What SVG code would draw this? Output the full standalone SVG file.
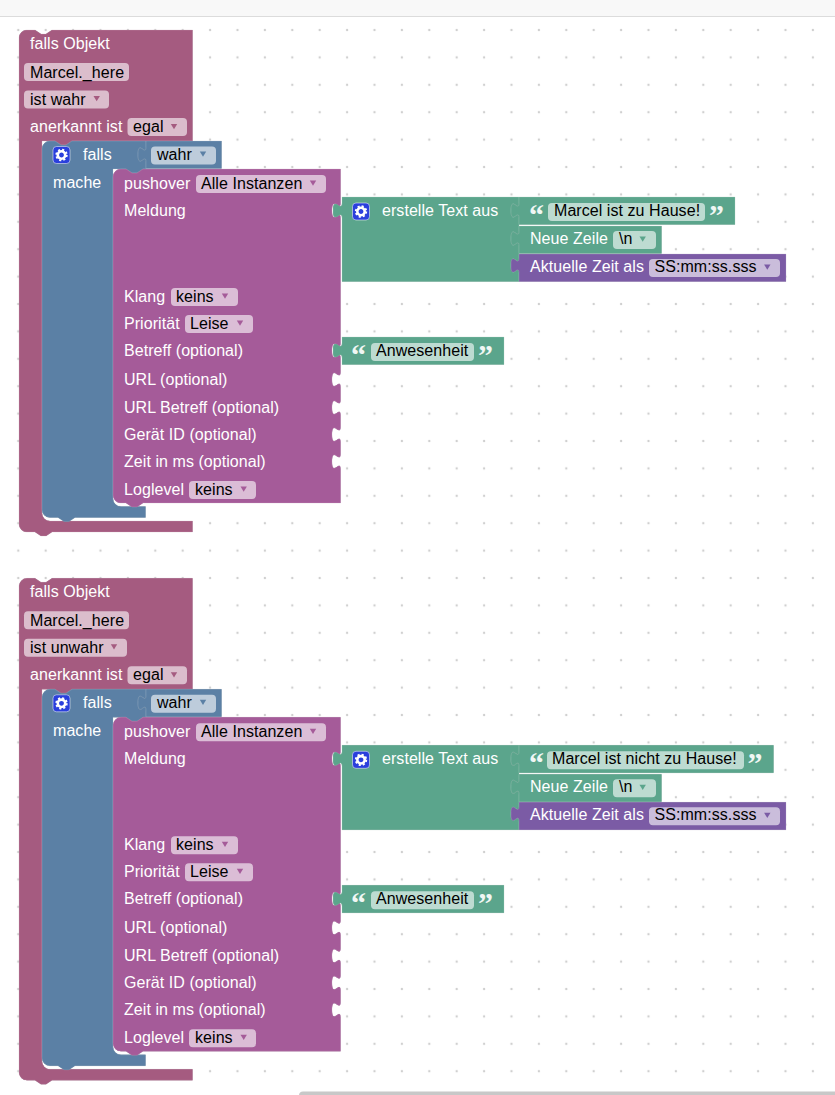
<svg xmlns="http://www.w3.org/2000/svg" width="835" height="1095" viewBox="0 0 835 1095">
<style>
text{font-family:"Liberation Sans",Arial,sans-serif;font-size:16px;fill:#fff;letter-spacing:.06px}
.f{fill:#000}
.q{font-family:"Liberation Serif",serif;font-weight:bold;font-size:30px;fill:#f0f7f4}
.b{stroke:#fff;stroke-opacity:.2;stroke-width:.7}
.m{fill:#a55b80;filter:drop-shadow(.6px .6px 0 #84496a)}
.l{fill:#5b80a5;filter:drop-shadow(.6px .6px 0 #496684)}
.p{fill:#a55b99;filter:drop-shadow(.6px .6px 0 #84497a)}
.g{fill:#5ba58c;filter:drop-shadow(.6px .6px 0 #498470)}
.v{fill:#7b5ba5;filter:drop-shadow(.6px .6px 0 #624984)}
.fd{fill:#fff;fill-opacity:.6}
.am{fill:#a55b80}.al{fill:#5b80a5}.ap{fill:#a55b99}.ag{fill:#5ba58c}.av{fill:#7b5ba5}
</style>
<defs>
<pattern id="dots" patternUnits="userSpaceOnUse" x="4.6" y="16.3" width="27.4" height="27.4"><circle cx="13.7" cy="13.7" r="1.2" fill="#d0d0d0"/></pattern>
<path id="arr" d="M-3.2-2.5h6.4L0 2.7z"/>
<g id="gear">
<rect x="-8.5" y="-8.5" width="17" height="17" rx="3.5" fill="#2a3fdc" stroke="#fff" stroke-opacity=".5"/>
<circle r="3.7" fill="none" stroke="#fff" stroke-width="2.6"/>
<circle r="5.3" fill="none" stroke="#fff" stroke-width="1.8" stroke-dasharray="2.1 2.06"/>
</g>
</defs>
<rect width="835" height="1095" fill="#fff"/>
<rect width="835" height="16" fill="#f8f8f8"/>
<rect y="16" width="835" height="1" fill="#dcdcdc"/>
<rect y="17" width="835" height="1078" fill="url(#dots)"/>
<rect x="299" y="1091.5" width="560" height="8" rx="4" fill="#c8c8c8"/>

<g id="stack1">
<g id="trigger1">
<path class="b m" d="M19 38A8 8 0 0 1 27 30H35l6 4h5l6-4H192.500V141H72l-6 4h-5l-6-4H42V513a8 8 0 0 0 8 8H192.500V532H52l-6 4h-5l-6-4H27A8 8 0 0 1 19 524Z"/>
<text x="30" y="49">falls Objekt</text>
<rect class="fd" x="24" y="63" width="105" height="18" rx="4"/><text class="f" x="30" y="78">Marcel._here</text>
<rect class="fd" x="24" y="90.500" width="85" height="18" rx="4"/><text class="f" x="30" y="104.500">ist wahr</text><use href="#arr" class="am" x="96.700" y="98.500"/>
<text x="30" y="132">anerkannt ist</text>
<rect class="fd" x="127.500" y="118" width="59.500" height="18" rx="4"/><text class="f" x="133" y="132">egal</text><use href="#arr" class="am" x="174" y="126.500"/>
</g>
<g id="if1">
<path class="b l" d="M42 149a8 8 0 0 1 8-8h5l6 4h5l6-4H146V147c0,10-8,-8-8,7.500s8,-2.500 8,7.500V169H143l-6 4h-5l-6-4H113V498.500a8 8 0 0 0 8 8H145.500V517.500H75l-6 4h-5l-6-4H50a8 8 0 0 1-8-8Z"/>
<use href="#gear" x="61.500" y="155"/>
<text x="83" y="160">falls</text>
<text x="53" y="188">mache</text>
</g>
<g id="cond1">
<path class="b l" d="M146 141H221.500V168.500H146V162c0,-10-8,8-8,-7.500s8,2.500 8,-7.500Z"/>
<rect class="fd" x="151" y="146.500" width="65" height="18" rx="4"/><text class="f" x="157" y="160">wahr</text><use href="#arr" class="al" x="203" y="154"/>
</g>
<g id="pushover1">
<path class="b p" d="M113 177a8 8 0 0 1 8-8h5l6 4h5l6-4H340.500V203c0,10-8.500,-8-8.500,7.500s8.500,-2.500 8.500,7.500V343c0,10-8.500,-8-8.500,7.500s8.500,-2.500 8.500,7.500V372c0,10-8.500,-8-8.500,7.500s8.500,-2.500 8.500,7.500V400c0,10-8.500,-8-8.500,7.500s8.500,-2.500 8.500,7.500V427c0,10-8.500,-8-8.500,7.500s8.500,-2.500 8.500,7.500V454c0,10-8.500,-8-8.500,7.500s8.500,-2.500 8.500,7.500V503H143l-6 4h-5l-6-4H121a8 8 0 0 1-8-8Z"/>
<text x="124" y="189">pushover</text>
<rect class="fd" x="196" y="175" width="130" height="18" rx="4"/><text class="f" x="201" y="189">Alle Instanzen</text><use href="#arr" class="ap" x="313" y="183"/>
<text x="124" y="216">Meldung</text>
<text x="124" y="302">Klang</text>
<rect class="fd" x="171" y="288" width="67" height="18" rx="4"/><text class="f" x="176" y="302">keins</text><use href="#arr" class="ap" x="225" y="296"/>
<text x="124" y="329">Priorität</text>
<rect class="fd" x="185" y="315" width="68" height="18" rx="4"/><text class="f" x="190" y="329">Leise</text><use href="#arr" class="ap" x="240" y="323"/>
<text x="124" y="356">Betreff (optional)</text>
<text x="124" y="385">URL (optional)</text>
<text x="124" y="412.500">URL Betreff (optional)</text>
<text x="124" y="440">Gerät ID (optional)</text>
<text x="124" y="467">Zeit in ms (optional)</text>
<text x="124" y="495">Loglevel</text>
<rect class="fd" x="189" y="481" width="67" height="18" rx="4"/><text class="f" x="195" y="495">keins</text><use href="#arr" class="ap" x="243.700" y="489"/>
</g>
<g id="join1">
<path class="b g" d="M342 197H519V203c0,10-8,-8-8,7.500s8,-2.500 8,7.500V231c0,10-8,-8-8,7.500s8,-2.500 8,7.500V258c0,10-8,-8-8,7.500s8,-2.500 8,7.500V281.500H342V218c0,-10-9,8-9,-7.500s9,2.500 9,-7.500Z"/>
<use href="#gear" x="361" y="211.500"/>
<text x="382" y="216">erstelle Text aus</text>
</g>
<g id="text1">
<path class="b g" d="M519 197H735V224.500H519V218c0,-10-8,8-8,-7.500s8,2.500 8,-7.500Z"/>
<text class="q" x="529" y="224.500">“</text>
<rect class="fd" x="548" y="203" width="157" height="18" rx="4"/><text class="f" x="554" y="216">Marcel ist zu Hause!</text>
<text class="q" x="709" y="224.500">”</text>
</g>
<g id="newline1">
<path class="b g" d="M519 226H661.500V253.500H519V246c0,-10-8,8-8,-7.500s8,2.500 8,-7.500Z"/>
<text x="530" y="244">Neue Zeile</text>
<rect class="fd" x="613" y="231" width="43" height="18" rx="4"/><text class="f" x="619" y="244">\n</text><use href="#arr" class="ag" x="642.700" y="239"/>
</g>
<g id="time1">
<path class="b v" d="M519 254H786V281.500H519V273c0,-10-8,8-8,-7.500s8,2.500 8,-7.500Z"/>
<text x="530" y="272">Aktuelle Zeit als</text>
<rect class="fd" x="649" y="259" width="131" height="18" rx="4"/><text class="f" x="654.500" y="272">SS:mm:ss.sss</text><use href="#arr" class="av" x="767.300" y="267"/>
</g>
<g id="subject1">
<path class="b g" d="M342 337H504V364.500H342V358c0,-10-9,8-9,-7.500s9,2.500 9,-7.500Z"/>
<text class="q" x="351" y="364.500">“</text>
<rect class="fd" x="371" y="343" width="103" height="18" rx="4"/><text class="f" x="376" y="356">Anwesenheit</text>
<text class="q" x="478" y="364.500">”</text>
</g>
</g>

<g id="stack2" transform="translate(0,548.300)">
<g id="trigger2">
<path class="b m" d="M19 38A8 8 0 0 1 27 30H35l6 4h5l6-4H192.500V141H72l-6 4h-5l-6-4H42V513a8 8 0 0 0 8 8H192.500V532H52l-6 4h-5l-6-4H27A8 8 0 0 1 19 524Z"/>
<text x="30" y="49">falls Objekt</text>
<rect class="fd" x="24" y="63" width="105" height="18" rx="4"/><text class="f" x="30" y="78">Marcel._here</text>
<rect class="fd" x="24" y="90.500" width="103" height="18" rx="4"/><text class="f" x="30" y="104.500">ist unwahr</text><use href="#arr" class="am" x="114" y="98.500"/>
<text x="30" y="132">anerkannt ist</text>
<rect class="fd" x="127.500" y="118" width="59.500" height="18" rx="4"/><text class="f" x="133" y="132">egal</text><use href="#arr" class="am" x="174" y="126.500"/>
</g>
<g id="if2">
<path class="b l" d="M42 149a8 8 0 0 1 8-8h5l6 4h5l6-4H146V147c0,10-8,-8-8,7.500s8,-2.500 8,7.500V169H143l-6 4h-5l-6-4H113V498.500a8 8 0 0 0 8 8H145.500V517.500H75l-6 4h-5l-6-4H50a8 8 0 0 1-8-8Z"/>
<use href="#gear" x="61.500" y="155"/>
<text x="83" y="160">falls</text>
<text x="53" y="188">mache</text>
</g>
<g id="cond2">
<path class="b l" d="M146 141H221.500V168.500H146V162c0,-10-8,8-8,-7.500s8,2.500 8,-7.500Z"/>
<rect class="fd" x="151" y="146.500" width="65" height="18" rx="4"/><text class="f" x="157" y="160">wahr</text><use href="#arr" class="al" x="203" y="154"/>
</g>
<g id="pushover2">
<path class="b p" d="M113 177a8 8 0 0 1 8-8h5l6 4h5l6-4H340.500V203c0,10-8.500,-8-8.500,7.500s8.500,-2.500 8.500,7.500V343c0,10-8.500,-8-8.500,7.500s8.500,-2.500 8.500,7.500V372c0,10-8.500,-8-8.500,7.500s8.500,-2.500 8.500,7.500V400c0,10-8.500,-8-8.500,7.500s8.500,-2.500 8.500,7.500V427c0,10-8.500,-8-8.500,7.500s8.500,-2.500 8.500,7.500V454c0,10-8.500,-8-8.500,7.500s8.500,-2.500 8.500,7.500V503H143l-6 4h-5l-6-4H121a8 8 0 0 1-8-8Z"/>
<text x="124" y="189">pushover</text>
<rect class="fd" x="196" y="175" width="130" height="18" rx="4"/><text class="f" x="201" y="189">Alle Instanzen</text><use href="#arr" class="ap" x="313" y="183"/>
<text x="124" y="216">Meldung</text>
<text x="124" y="302">Klang</text>
<rect class="fd" x="171" y="288" width="67" height="18" rx="4"/><text class="f" x="176" y="302">keins</text><use href="#arr" class="ap" x="225" y="296"/>
<text x="124" y="329">Priorität</text>
<rect class="fd" x="185" y="315" width="68" height="18" rx="4"/><text class="f" x="190" y="329">Leise</text><use href="#arr" class="ap" x="240" y="323"/>
<text x="124" y="356">Betreff (optional)</text>
<text x="124" y="385">URL (optional)</text>
<text x="124" y="412.500">URL Betreff (optional)</text>
<text x="124" y="440">Gerät ID (optional)</text>
<text x="124" y="467">Zeit in ms (optional)</text>
<text x="124" y="495">Loglevel</text>
<rect class="fd" x="189" y="481" width="67" height="18" rx="4"/><text class="f" x="195" y="495">keins</text><use href="#arr" class="ap" x="243.700" y="489"/>
</g>
<g id="join2">
<path class="b g" d="M342 197H519V203c0,10-8,-8-8,7.500s8,-2.500 8,7.500V231c0,10-8,-8-8,7.500s8,-2.500 8,7.500V258c0,10-8,-8-8,7.500s8,-2.500 8,7.500V281.500H342V218c0,-10-9,8-9,-7.500s9,2.500 9,-7.500Z"/>
<use href="#gear" x="361" y="211.500"/>
<text x="382" y="216">erstelle Text aus</text>
</g>
<g id="text2">
<path class="b g" d="M519 197H773.500V224.500H519V218c0,-10-8,8-8,-7.500s8,2.500 8,-7.500Z"/>
<text class="q" x="529" y="224.500">“</text>
<rect class="fd" x="547" y="203" width="197" height="18" rx="4"/><text class="f" x="552" y="216">Marcel ist nicht zu Hause!</text>
<text class="q" x="747.500" y="224.500">”</text>
</g>
<g id="newline2">
<path class="b g" d="M519 226H661.500V253.500H519V246c0,-10-8,8-8,-7.500s8,2.500 8,-7.500Z"/>
<text x="530" y="244">Neue Zeile</text>
<rect class="fd" x="613" y="231" width="43" height="18" rx="4"/><text class="f" x="619" y="244">\n</text><use href="#arr" class="ag" x="642.700" y="239"/>
</g>
<g id="time2">
<path class="b v" d="M519 254H786V281.500H519V273c0,-10-8,8-8,-7.500s8,2.500 8,-7.500Z"/>
<text x="530" y="272">Aktuelle Zeit als</text>
<rect class="fd" x="649" y="259" width="131" height="18" rx="4"/><text class="f" x="654.500" y="272">SS:mm:ss.sss</text><use href="#arr" class="av" x="767.300" y="267"/>
</g>
<g id="subject2">
<path class="b g" d="M342 337H504V364.500H342V358c0,-10-9,8-9,-7.500s9,2.500 9,-7.500Z"/>
<text class="q" x="351" y="364.500">“</text>
<rect class="fd" x="371" y="343" width="103" height="18" rx="4"/><text class="f" x="376" y="356">Anwesenheit</text>
<text class="q" x="478" y="364.500">”</text>
</g>
</g>
</svg>
